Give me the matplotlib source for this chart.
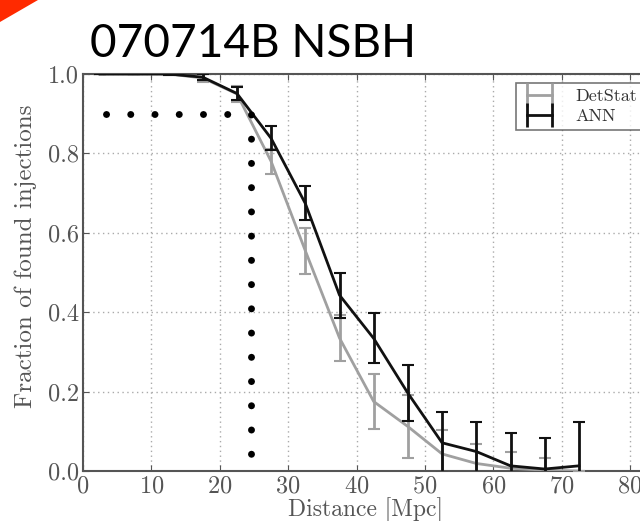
import numpy as np
import matplotlib
matplotlib.use('Agg')
import matplotlib.pyplot as plt
from matplotlib.lines import Line2D
from matplotlib.patches import Polygon

plt.rcParams['font.family'] = 'serif'
plt.rcParams['font.serif'] = ['cmr10', 'DejaVu Serif']
plt.rcParams['mathtext.fontset'] = 'cm'
plt.rcParams['axes.formatter.use_mathtext'] = True

# bin centres (Mpc)
distance = [2.5, 7.5, 12.5, 17.5, 22.5, 27.5, 32.5, 37.5, 42.5, 47.5, 52.5, 57.5, 62.5, 67.5, 72.5]

detstat = [1.0, 1.0, 1.0, 0.99, 0.95, 0.78, 0.555, 0.335, 0.175, 0.112, 0.043, 0.019, 0.007, 0.002, 0.0]
detstat_err = [0.0, 0.0, 0.002, 0.01, 0.02, 0.031, 0.058, 0.059, 0.069, 0.08, 0.06, 0.05, 0.04, 0.03, 0.0]

ann = [1.0, 1.0, 1.0, 0.992, 0.951, 0.838, 0.674, 0.443, 0.334, 0.196, 0.071, 0.049, 0.013, 0.005, 0.013]
ann_err = [0.0, 0.0, 0.002, 0.008, 0.017, 0.03, 0.043, 0.057, 0.063, 0.07, 0.077, 0.075, 0.082, 0.079, 0.111]

# 90% efficiency guide
guide_frac = 0.9
guide_dist = 24.5
guide_start = 3.3
guide_end = 0.025

x_ticks = [0, 10, 20, 30, 40, 50, 60, 70, 80]
y_ticks = [0.0, 0.2, 0.4, 0.6, 0.8, 1.0]

grey = '#a0a0a0'
dark = '#111111'
axis_col = '#555555'

fig = plt.figure(figsize=(6.4, 5.21), dpi=100)
ax = fig.add_axes([83 / 640, 50 / 521, 564.3 / 640, 397 / 521])

ax.errorbar(distance, detstat, yerr=detstat_err, color=grey, lw=2, elinewidth=2,
            capsize=4, capthick=1.5, zorder=3)
ax.errorbar(distance, ann, yerr=ann_err, color=dark, lw=2, elinewidth=2,
            capsize=4, capthick=1.5, zorder=4)

ax.plot([guide_start, guide_dist, guide_dist], [guide_frac, guide_frac, guide_end],
        color='black', lw=5, linestyle=(0, (0.01, 3.48)), dash_capstyle='round',
        zorder=5)

ax.set_xlim(0, 82.5)
ax.set_ylim(0, 1.0)
ax.set_xticks(x_ticks)
ax.set_yticks(y_ticks)
ax.set_yticklabels(['%.1f' % v for v in y_ticks])
ax.grid(True, color='#aaaaaa', linestyle=(0, (1, 2.5)), lw=1)
ax.set_axisbelow(True)
ax.tick_params(direction='in', top=True, right=True, labelsize=17.5,
               colors=axis_col, length=4, pad=3)
for s in ax.spines.values():
    s.set_color(axis_col)
    s.set_linewidth(1.5)

ax.set_xlabel('Distance [Mpc]', fontsize=17, color='#555555', labelpad=0)
ax.set_ylabel('Fraction of found injections', fontsize=18, color='#555555')
ax.yaxis.set_label_coords(-0.082, 0.54)

handles = [Line2D([], [], color=grey, lw=2, marker='|', markersize=17, mew=2),
           Line2D([], [], color=dark, lw=2, marker='|', markersize=17, mew=2)]
leg = fig.legend(handles, ['DetStat', 'ANN'], numpoints=2, fontsize=13,
                 loc='upper left', bbox_to_anchor=(516 / 640, 1 - 83 / 521),
                 frameon=True, fancybox=False, borderaxespad=0, handlelength=2.0,
                 borderpad=0.3, labelspacing=0.25, handletextpad=1.0)
leg.get_frame().set_edgecolor(axis_col)
leg.get_frame().set_linewidth(1.2)
for t in leg.get_texts():
    t.set_color('#333333')

fig.text(90 / 640, 1 - 57 / 521, '070714B NSBH', family=['Lato', 'DejaVu Sans'],
         fontsize=33, va='baseline', ha='left', color='black')

fig.patches.append(Polygon([[0, 1], [38 / 640, 1], [0, 1 - 22 / 521]], closed=True,
                           transform=fig.transFigure, facecolor='#ff2a00',
                           edgecolor='none'))

fig.savefig('out.png', dpi=100)
